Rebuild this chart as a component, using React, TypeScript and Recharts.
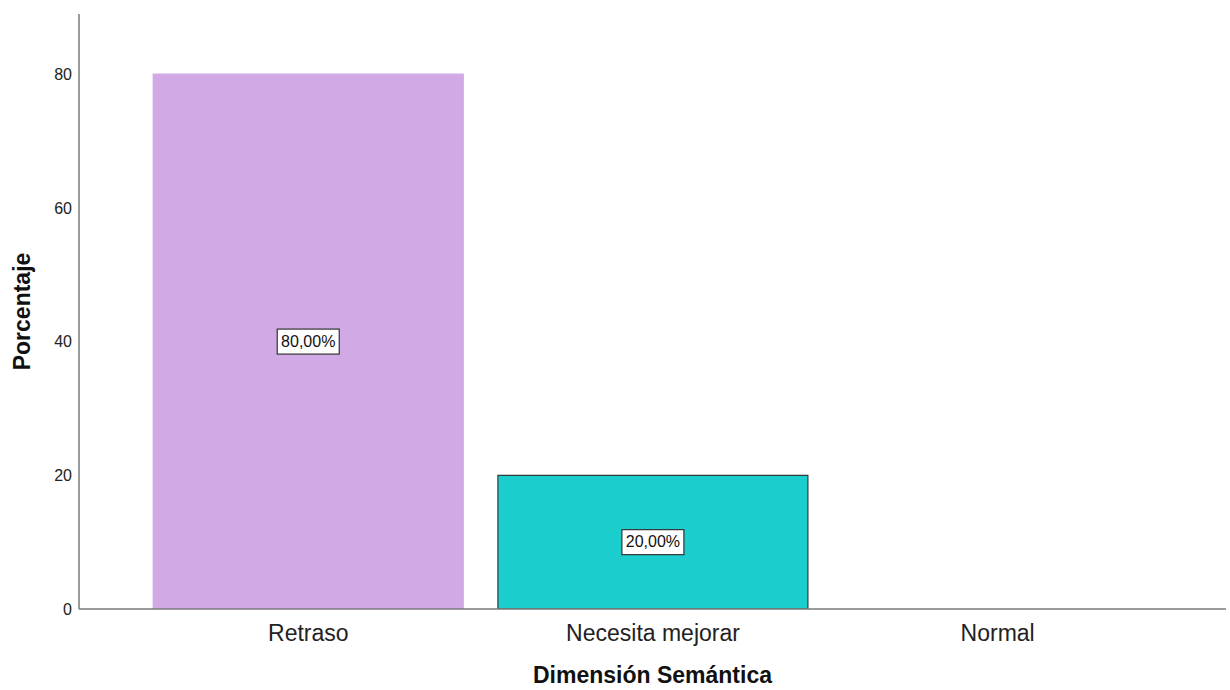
import React from 'react';
import { BarChart, Bar, XAxis, YAxis, Cell, LabelList, Label } from 'recharts';

const categories = ['Retraso', 'Necesita mejorar', 'Normal'];
const percentages = [80, 20, 0];
const yTicks = [0, 20, 40, 60, 80];

const BAR_FILLS = ['#d1a9e5', '#1ccdcd', '#d1a9e5'];
const BAR_STROKES = ['#d1a9e5', '#2f3a3a', 'none'];

const data = categories.map((name, i) => ({ name, value: percentages[i] }));

const FONT = '"Liberation Sans", Arial, sans-serif';

// white boxed percentage label centred inside the bar
function BoxLabel(props: any) {
  const { x, y, width, height, value } = props;
  if (!value) return null;
  const text = `${Number(value).toFixed(2).replace('.', ',')}%`;
  const cx = x + width / 2;
  const cy = y + height / 2;
  const w = 62;
  const h = 25;
  return (
    <g>
      <rect x={cx - w / 2} y={cy - h / 2} width={w} height={h} fill="#ffffff" stroke="#333333" strokeWidth={1.2} />
      <text x={cx} y={cy + 1} textAnchor="middle" dominantBaseline="middle" fontSize={16} fontFamily={FONT} fill="#111">
        {text}
      </text>
    </g>
  );
}

export default function App() {
  return (
    <div style={{ position: 'fixed', left: 0, top: 0, width: 1230, height: 690, background: '#fff' }}>
      <BarChart
        width={1230}
        height={690}
        data={data}
        margin={{ top: 14, right: 4, bottom: 0, left: 0 }}
        barCategoryGap="5%"
      >
        <XAxis
          dataKey="name"
          height={81}
          axisLine={{ stroke: '#7a7a7a', strokeWidth: 1.5 }}
          tickLine={false}
          padding={{ left: 57, right: 56 }}
          tick={{ fontSize: 23, fill: '#222', fontFamily: FONT }}
          tickMargin={10}
        >
          <Label
            value="Dimensión Semántica"
            position="insideBottom"
            offset={7}
            style={{ fontSize: 23, fontWeight: 'bold', fill: '#111', fontFamily: FONT }}
          />
        </XAxis>
        <YAxis
          width={79}
          domain={[0, 89]}
          ticks={yTicks}
          allowDataOverflow
          axisLine={{ stroke: '#7a7a7a', strokeWidth: 1.5 }}
          tickLine={false}
          tickMargin={1}
          tick={{ fontSize: 16, fill: '#222', fontFamily: FONT }}
        >
          <Label
            content={({ viewBox }: any) => {
              const cy = viewBox.y + viewBox.height / 2;
              return (
                <text
                  x={22}
                  y={cy}
                  transform={`rotate(-90, 22, ${cy})`}
                  textAnchor="middle"
                  dominantBaseline="central"
                  fontSize={23}
                  fontWeight="bold"
                  fill="#111"
                  fontFamily={FONT}
                >
                  Porcentaje
                </text>
              );
            }}
          />
        </YAxis>
        <Bar dataKey="value" isAnimationActive={false}>
          {data.map((d, i) => (
            <Cell key={d.name} fill={BAR_FILLS[i]} stroke={BAR_STROKES[i]} strokeWidth={1.2} />
          ))}
          <LabelList dataKey="value" content={BoxLabel} />
        </Bar>
      </BarChart>
    </div>
  );
}
